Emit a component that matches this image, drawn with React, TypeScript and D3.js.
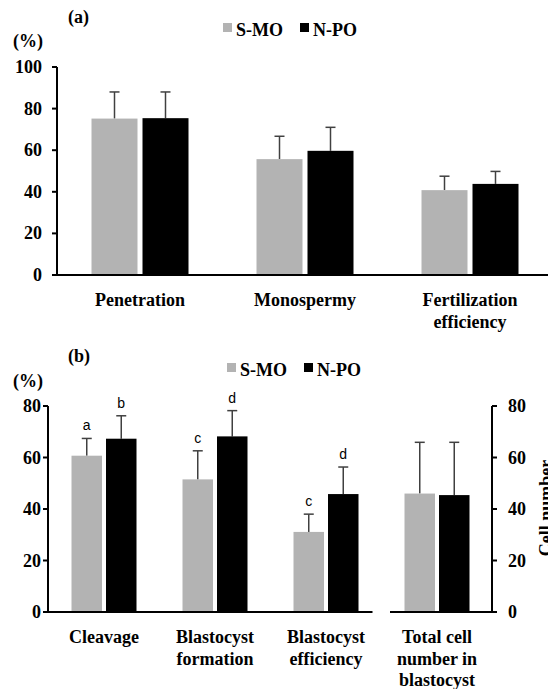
import React from "react";
import * as d3 from "d3";

const seriesNames = ["S-MO", "N-PO"];
const seriesColors = ["#b3b3b3", "#000000"];

const catsA = [["Penetration"], ["Monospermy"], ["Fertilization", "efficiency"]];
const smoA = [75.2, 55.7, 40.8];
const smoErrA = [12.8, 11.0, 6.7];
const npoA = [75.4, 59.7, 43.8];
const npoErrA = [12.6, 11.3, 6.0];
const ticksA = [0, 20, 40, 60, 80, 100];

const catsB = [["Cleavage"], ["Blastocyst", "formation"], ["Blastocyst", "efficiency"], ["Total cell", "number in", "blastocyst"]];
const smoB = [60.7, 51.5, 31.1, 46.0];
const smoErrB = [6.7, 11.1, 6.9, 19.9];
const npoB = [67.3, 68.2, 45.8, 45.4];
const npoErrB = [8.9, 10.0, 10.5, 20.5];
const lettersSmoB = ["a", "c", "c", ""];
const lettersNpoB = ["b", "d", "d", ""];
const ticksB = [0, 20, 40, 60, 80];

const SERIF = "'Liberation Serif', 'Times New Roman', serif";
const SANS = "'Liberation Sans', Arial, sans-serif";
const FS = 18;

function Bars({ x, y, smo, smoErr, npo, npoErr, barW, gap, lettersS, lettersN }: any) {
  const out: any[] = [];
  x.domain().forEach((c: number, i: number) => {
    const cx = (x(c) as number) + x.bandwidth() / 2;
    const vals = [smo[i], npo[i]];
    const errs = [smoErr[i], npoErr[i]];
    const lets = [lettersS ? lettersS[i] : "", lettersN ? lettersN[i] : ""];
    vals.forEach((v: number, s: number) => {
      const x0 = s === 0 ? cx - gap / 2 - barW : cx + gap / 2;
      const mid = x0 + barW / 2;
      const top = y(v);
      const etop = y(v + errs[s]);
      out.push(
        <g key={`${i}-${s}`}>
          <line x1={mid} x2={mid} y1={top} y2={etop} stroke="#404040" strokeWidth={1.5} />
          <line x1={mid - 5} x2={mid + 5} y1={etop} y2={etop} stroke="#404040" strokeWidth={1.5} />
          <rect x={x0} y={top} width={barW} height={y(0) - top} fill={seriesColors[s]} />
          {lets[s] ? (
            <text x={mid} y={etop - 8} textAnchor="middle" fontFamily={SANS} fontSize={14} fill="#000">
              {lets[s]}
            </text>
          ) : null}
        </g>
      );
    });
  });
  return <g>{out}</g>;
}

function Legend({ x, y }: { x: number; y: number }) {
  return (
    <g>
      {seriesNames.map((n, i) => (
        <g key={n} transform={`translate(${x + i * 77},${y})`}>
          <rect x={0} y={-13} width={9} height={9} fill={seriesColors[i]} />
          <text x={13} y={0} fontFamily={SERIF} fontWeight="bold" fontSize={FS}>
            {n}
          </text>
        </g>
      ))}
    </g>
  );
}

export default function App() {
  // Panel (a)
  const yA = d3.scaleLinear().domain([0, 100]).range([275, 67]);
  const xA = d3.scaleBand<number>().domain(catsA.map((_, i) => i)).range([57.5, 552.5]);
  // Panel (b)
  const yB = d3.scaleLinear().domain([0, 80]).range([612, 406]);
  const xB = d3.scaleBand<number>().domain(catsB.map((_, i) => i)).range([48.5, 492.5]);

  return (
    <svg width={548} height={689} style={{ position: "absolute", left: 0, top: 0 }}>
      <rect width={548} height={689} fill="#fff" />
      {/* Panel (a) */}
      <text x={68} y={23} fontFamily={SERIF} fontWeight="bold" fontSize={FS}>(a)</text>
      <text x={13} y={47} fontFamily={SERIF} fontWeight="bold" fontSize={FS}>(%)</text>
      <Legend x={223} y={36} />
      <Bars x={xA} y={yA} smo={smoA} smoErr={smoErrA} npo={npoA} npoErr={npoErrA} barW={46} gap={5} />
      <line x1={57} x2={57} y1={yA(100)} y2={yA(0) + 1} stroke="#000" strokeWidth={2} />
      <line x1={52} x2={548} y1={yA(0)} y2={yA(0)} stroke="#000" strokeWidth={2} />
      {ticksA.map((t) => (
        <g key={t}>
          <line x1={52} x2={57} y1={yA(t)} y2={yA(t)} stroke="#000" strokeWidth={2} />
          <text x={42} y={yA(t) + 6} textAnchor="end" fontFamily={SERIF} fontWeight="bold" fontSize={FS}>{t}</text>
        </g>
      ))}
      {catsA.map((lines, i) => (
        <text key={i} textAnchor="middle" fontFamily={SERIF} fontWeight="bold" fontSize={FS}>
          {lines.map((l, j) => (
            <tspan key={j} x={(xA(i) as number) + xA.bandwidth() / 2} y={306 + j * 22}>{l}</tspan>
          ))}
        </text>
      ))}

      {/* Panel (b) */}
      <text x={68} y={362} fontFamily={SERIF} fontWeight="bold" fontSize={FS}>(b)</text>
      <text x={13} y={387} fontFamily={SERIF} fontWeight="bold" fontSize={FS}>(%)</text>
      <Legend x={227} y={376} />
      <Bars x={xB} y={yB} smo={smoB} smoErr={smoErrB} npo={npoB} npoErr={npoErrB} barW={30.5} gap={4} lettersS={lettersSmoB} lettersN={lettersNpoB} />
      <line x1={48} x2={48} y1={yB(80)} y2={yB(0) + 1} stroke="#000" strokeWidth={2} />
      <line x1={43} x2={372.5} y1={yB(0)} y2={yB(0)} stroke="#000" strokeWidth={2} />
      {ticksB.map((t) => (
        <g key={t}>
          <line x1={43} x2={48} y1={yB(t)} y2={yB(t)} stroke="#000" strokeWidth={2} />
          <text x={42 - 1} y={yB(t) + 6} textAnchor="end" fontFamily={SERIF} fontWeight="bold" fontSize={FS}>{t}</text>
        </g>
      ))}
      <line x1={492} x2={492} y1={yB(80)} y2={yB(0) + 1} stroke="#000" strokeWidth={2} />
      <line x1={390} x2={497} y1={yB(0)} y2={yB(0)} stroke="#000" strokeWidth={2} />
      {ticksB.map((t) => (
        <g key={`r${t}`}>
          <line x1={492} x2={497} y1={yB(t)} y2={yB(t)} stroke="#000" strokeWidth={2} />
          <text x={508} y={yB(t) + 6} textAnchor="start" fontFamily={SERIF} fontWeight="bold" fontSize={FS}>{t}</text>
        </g>
      ))}
      <text transform="translate(552,508) rotate(-90)" textAnchor="middle" fontFamily={SERIF} fontWeight="bold" fontSize={FS}>Cell number</text>
      {catsB.map((lines, i) => (
        <text key={i} textAnchor="middle" fontFamily={SERIF} fontWeight="bold" fontSize={FS}>
          {lines.map((l, j) => (
            <tspan key={j} x={(xB(i) as number) + xB.bandwidth() / 2} y={643 + j * 21.5}>{l}</tspan>
          ))}
        </text>
      ))}
    </svg>
  );
}
